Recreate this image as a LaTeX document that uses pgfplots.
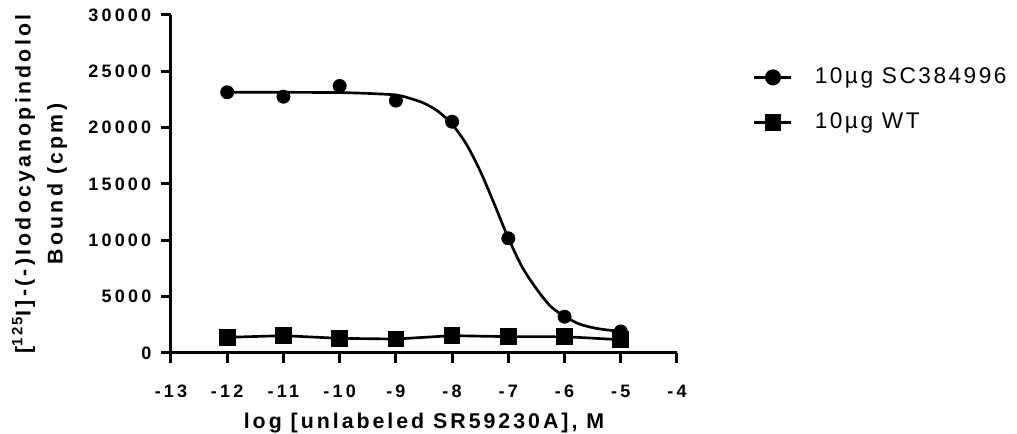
\documentclass[border=0pt]{standalone}
\usepackage{pgfplots}
\pgfplotsset{compat=1.18}
\usepackage{fontspec}
\setmainfont{Liberation Sans}
\newfontfamily\xlabfont[LetterSpace=14]{Liberation Sans Bold}
\newfontfamily\ylabfont[LetterSpace=15]{Liberation Sans Bold}
\newfontfamily\tickfont[LetterSpace=18]{Liberation Sans Bold}
\newfontfamily\legfont[LetterSpace=11]{Liberation Sans}

\begin{document}
\begin{tikzpicture}
\begin{axis}[
  name=ax,
  scale only axis, width=379.5pt, height=253.5pt,
  xmin=-13, xmax=-4, ymin=0, ymax=30000,
  axis lines=left, axis line style={-, line width=2.25pt},
  xtick={-13,-12,...,-4}, ytick={0,5000,...,30000},
  tick align=outside, major tick length=7.5pt,
  tick style={black, line width=2.25pt},
  /pgf/number format/assume math mode=true,
  /pgf/number format/1000 sep={},
  scaled y ticks=false,
  ticklabel style={font=\tickfont\fontsize{13.5}{16}\selectfont},
  xticklabel style={yshift=-12.75pt},
  yticklabel style={xshift=-3.75pt},
  xlabel={log [unlabeled SR59230A], M},
  xlabel style={at={(axis description cs:0.5,-0.222)}, anchor=base,
    font=\xlabfont\fontsize{16}{19}\selectfont},
  ylabel={{[}\textsuperscript{125}I]-(-)Iodocyanopindolol\\Bound (cpm)},
  ylabel style={at={(axis description cs:-0.196,0.5)}, anchor=south, align=center,
    font=\ylabfont\fontsize{16}{24}\selectfont},
  clip=false,
  legend image code/.code={
    \draw[mark repeat=2, mark phase=2] plot coordinates {(0pt,0pt) (13.875pt,0pt) (27.75pt,0pt)};},
  legend style={draw=none, fill=none, at={(axis description cs:1.150,0.7485)}, anchor=west,
    inner sep=0pt, row sep=18.5pt, column sep=16.5pt,
    font=\legfont\fontsize{17}{20}\selectfont,
    nodes={inner sep=0pt, text height=12pt, text depth=3.5pt}},
  legend cell align=left,
]
% fitted curve
\addplot[black, line width=2pt, smooth, forget plot] coordinates {
  (-12,23150) (-11,23140) (-10,23110) (-9.5,23040) (-9,22900) (-8.75,22600)
  (-8.5,22170) (-8.25,21450) (-8,20300) (-7.75,18560) (-7.5,16150)
  (-7.25,13230) (-7,10200) (-6.75,7600) (-6.5,5700) (-6.25,4150)
  (-6,3250) (-5.75,2600) (-5.5,2250) (-5.25,2050) (-5,1930)};
\addplot[black, only marks, mark=*, mark size=5pt, forget plot] coordinates {
  (-12,23140) (-11,22750) (-10,23700) (-9,22400) (-8,20530)
  (-7,10180) (-6,3220) (-5,1910)};
\addplot[black, line width=2pt, mark=square*, mark size=5.25pt, forget plot] coordinates {
  (-12,1390) (-11,1540) (-10,1300) (-9,1240) (-8,1540)
  (-7,1450) (-6,1450) (-5,1180)};
\addlegendimage{black, line width=2pt, mark=*, mark size=5pt}
\addlegendentry{10µg SC384996}
\addlegendimage{black, line width=2pt, mark=square*, mark size=5.25pt}
\addlegendentry{10µg WT}
\end{axis}
\pgfresetboundingbox
\path[use as bounding box] ([shift={(-128.25pt,-60.75pt)}]ax.south west)
  rectangle ([shift={(634.5pt,264.75pt)}]ax.south west);
\end{tikzpicture}
\end{document}
